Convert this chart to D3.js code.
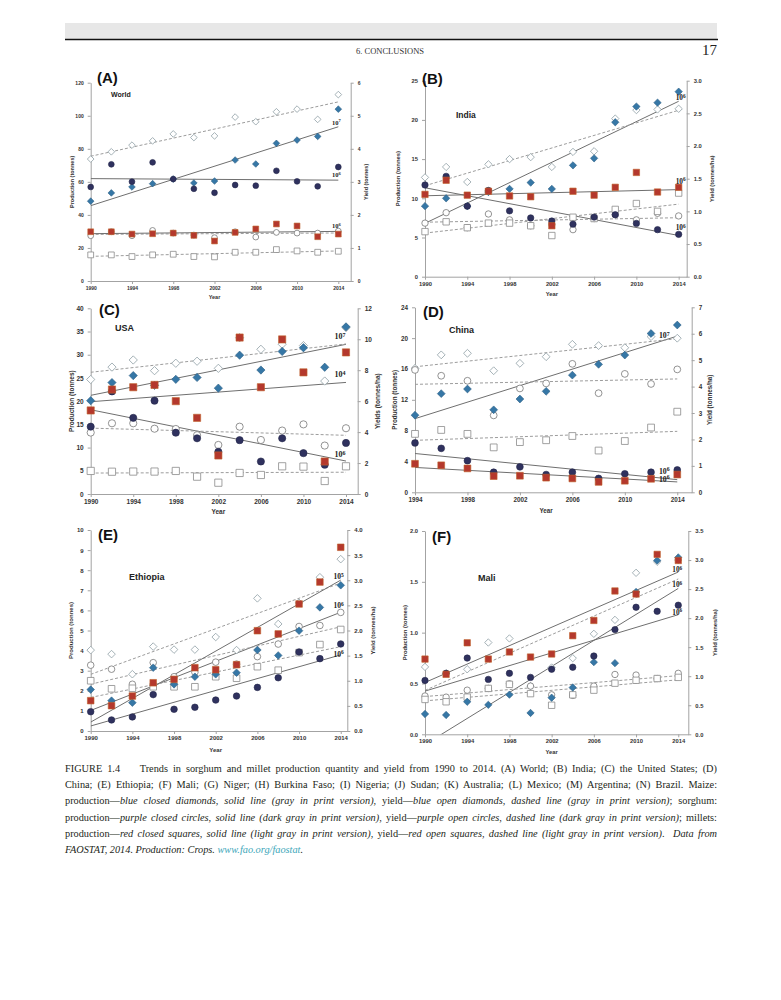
<!DOCTYPE html>
<html>
<head>
<meta charset="utf-8">
<script src="https://cdn.jsdelivr.net/npm/d3@7"></script>
<style>
  body { margin: 0; background: #fff; }
  #page { position: relative; width: 781px; height: 1000px; overflow: hidden; }
  #page svg { position: absolute; left: 0; top: 0; }
  .cap { position: absolute; left: 65px; top: 761px; width: 652px;
         font-family: "Liberation Serif", serif; font-size: 10.3px; color: #231f20; }
  .cap div { height: 16.2px; line-height: 16.2px; white-space: nowrap;
             text-align: justify; text-align-last: justify; }
  .cap div.last { text-align-last: left; }
  .cap .link { color: #3aa6b9; }
</style>
</head>
<body>
<div id="page"></div>
<script>
// years on the x axis
const years = [1990, 1992, 1994, 1996, 1998, 2000, 2002, 2004, 2006, 2008, 2010, 2012, 2014];
const chinaYears = [1994, 1996, 1998, 2000, 2002, 2004, 2006, 2008, 2010, 2012, 2014];
const xTicks = [1990, 1994, 1998, 2002, 2006, 2010, 2014];
const chinaXTicks = [1994, 1998, 2002, 2006, 2010, 2014];

// (A) World
const worldMaizeProd   = [48.3, 53.3, 56.9, 58.9, 61.7, 59.3, 60.5, 73.2, 70.8, 83.3, 85.3, 87.5, 104];
const worldMaizeYield  = [3.69, 3.91, 4.11, 4.24, 4.45, 4.34, 4.39, 4.96, 4.82, 5.12, 5.20, 4.89, 5.64];
const worldSorghumProd = [56.9, 70.6, 60.1, 71.8, 61.7, 55.8, 53.4, 58.1, 57.7, 66.7, 60.3, 57.3, 69.0];
const worldSorghumYield= [1.37, 1.49, 1.37, 1.53, 1.45, 1.39, 1.31, 1.49, 1.33, 1.47, 1.45, 1.45, 1.51];
const worldMilletProd  = [29.8, 29.8, 28.4, 28.6, 29.0, 27.6, 24.2, 29.4, 31.5, 34.5, 33.3, 26.8, 28.4];
const worldMilletYield = [0.79, 0.79, 0.74, 0.79, 0.81, 0.74, 0.73, 0.87, 0.87, 0.95, 0.91, 0.87, 0.90];
const worldExp = [7, 6, 6];
const worldProdTicks = [0, 20, 40, 60, 80, 100, 120];
const worldYieldTicks = [0, 1, 2, 3, 4, 5, 6];

// (B) India
const indiaMaizeProd   = [9.0, 10.0, 9.0, 10.8, 11.2, 12.0, 11.2, 14.2, 15.1, 19.7, 21.7, 22.2, 23.6];
const indiaMaizeYield  = [1.52, 1.68, 1.45, 1.72, 1.80, 1.83, 1.68, 1.91, 1.92, 2.42, 2.55, 2.56, 2.57];
const indiaSorghumProd = [11.7, 12.8, 9.0, 11.0, 8.4, 7.5, 7.1, 6.7, 7.6, 7.9, 6.8, 6.0, 5.4];
const indiaSorghumYield= [0.82, 0.98, 0.75, 0.96, 0.87, 0.78, 0.80, 0.72, 0.89, 0.95, 0.87, 0.97, 0.93];
const indiaMilletProd  = [10.5, 12.3, 10.4, 10.9, 10.3, 10.2, 6.5, 10.9, 10.4, 11.4, 13.3, 10.8, 11.4];
const indiaMilletYield = [0.69, 0.84, 0.75, 0.82, 0.82, 0.78, 0.63, 0.91, 0.89, 1.03, 1.12, 1.00, 1.28];
const indiaExp = [6, 6, 6];
const indiaProdTicks = [0, 5, 10, 15, 20, 25];
const indiaYieldTicks = [0, 0.5, 1, 1.5, 2, 2.5, 3];

// (C) USA
const usaMaizeProd   = [20.1, 24.0, 25.5, 23.4, 24.7, 25.1, 22.8, 29.9, 26.7, 30.7, 31.5, 27.3, 36.0];
const usaMaizeYield  = [7.4, 8.2, 8.66, 7.97, 8.45, 8.58, 8.12, 10.1, 9.35, 9.68, 9.59, 7.3, 10.75];
const usaSorghumProd = [14.5, 22.1, 16.4, 20.1, 13.2, 12.0, 9.1, 11.6, 7.0, 12.0, 8.8, 6.3, 11.0];
const usaSorghumYield= [3.97, 4.57, 4.57, 4.22, 4.2, 3.8, 3.17, 4.35, 3.49, 4.1, 4.5, 3.13, 4.25];
const usaMilletProd  = [18.0, 22.5, 23.0, 23.5, 20.0, 16.4, 8.3, 33.7, 23.0, 33.3, 26.2, 7.0, 30.5];
const usaMilletYield = [1.49, 1.44, 1.45, 1.45, 1.49, 1.12, 0.73, 1.36, 1.23, 1.79, 1.77, 0.84, 1.79];
const usaExp = [7, 6, 4];
const usaProdTicks = [0, 5, 10, 15, 20, 25, 30, 35, 40];
const usaYieldTicks = [0, 2, 4, 6, 8, 10, 12];

// (D) China
const chinaMaizeProd   = [10.0, 12.8, 13.4, 10.7, 12.1, 13.1, 15.2, 16.6, 17.8, 20.6, 21.7];
const chinaMaizeYield  = [4.69, 5.20, 5.26, 4.60, 4.88, 5.13, 5.60, 5.55, 5.47, 5.89, 5.83];
const chinaSorghumProd = [6.4, 5.7, 4.1, 2.6, 3.3, 2.3, 2.6, 1.8, 2.4, 2.6, 2.9];
const chinaSorghumYield= [4.63, 4.41, 4.22, 2.91, 3.93, 4.12, 4.86, 3.75, 4.48, 4.10, 4.65];
const chinaMilletProd  = [3.7, 3.5, 3.1, 2.1, 2.15, 1.9, 1.8, 1.35, 1.5, 1.75, 2.3];
const chinaMilletYield = [2.21, 2.36, 2.21, 1.70, 1.90, 1.97, 2.13, 1.58, 1.94, 2.45, 3.05];
const chinaExp = [7, 6, 6];
const chinaProdTicks = [0, 4, 8, 12, 16, 20, 24];
const chinaYieldTicks = [0, 1, 2, 3, 4, 5, 6, 7];

// (E) Ethiopia
const ethMaizeProd   = [2.06, 1.51, 1.41, 3.15, 2.32, 2.7, 2.82, 2.9, 4.03, 3.76, 4.99, 6.15, 7.25];
const ethMaizeYield  = [1.61, 1.53, 1.13, 1.68, 1.62, 1.62, 1.87, 1.61, 2.64, 2.13, 2.55, 3.06, 3.42];
const ethSorghumProd = [0.96, 0.55, 0.7, 1.81, 1.08, 1.18, 1.54, 1.74, 2.17, 2.65, 3.93, 3.6, 4.33];
const ethSorghumYield= [1.31, 1.23, 0.93, 1.36, 1.08, 1.17, 1.37, 1.33, 1.48, 1.73, 2.08, 2.1, 2.36];
const ethMilletProd  = [1.51, 1.26, 1.74, 2.4, 2.57, 3.15, 3.05, 3.3, 4.99, 4.83, 6.32, 7.41, 9.14];
const ethMilletYield = [1.0, 0.84, 0.85, 0.88, 0.88, 0.88, 1.08, 1.05, 1.28, 1.21, 1.56, 1.72, 2.02];
const ethExp = [6, 6, 5];
const ethProdTicks = [0, 1, 2, 3, 4, 5, 6, 7, 8, 9, 10];
const ethYieldTicks = [0, 0.5, 1, 1.5, 2, 2.5, 3, 3.5, 4];

// (F) Mali
const maliMaizeProd   = [0.2, 0.19, 0.32, 0.29, 0.39, 0.21, 0.36, 0.46, 0.71, 0.7, 1.4, 1.71, 1.74];
const maliMaizeYield  = [1.16, 1.05, 1.12, 1.58, 1.65, 0.83, 1.15, 1.31, 1.73, 1.97, 2.78, 2.97, 3.0];
const maliSorghumProd = [0.53, 0.6, 0.75, 0.54, 0.6, 0.56, 0.64, 0.66, 0.77, 1.03, 1.25, 1.21, 1.27];
const maliSorghumYield= [0.66, 0.64, 0.76, 0.79, 0.87, 0.83, 0.68, 0.67, 0.83, 1.03, 1.02, 0.96, 1.05];
const maliMilletProd  = [0.74, 0.59, 0.9, 0.74, 0.81, 0.76, 0.79, 0.97, 1.12, 1.41, 1.38, 1.77, 1.71];
const maliMilletYield = [0.6, 0.56, 0.64, 0.79, 0.86, 0.7, 0.5, 0.68, 0.76, 0.88, 0.93, 0.96, 0.98];
const maliExp = [6, 6, 6];
const maliProdTicks = [0, 0.5, 1, 1.5, 2];
const maliYieldTicks = [0, 0.5, 1, 1.5, 2, 2.5, 3, 3.5];

// crop styles: maize, sorghum, millet
const crops = [
  { shape: "diamond", fill: "#3677a6", stroke: "#2d5f85", open: "#8e9ea5" },
  { shape: "circle",  fill: "#2f315e", stroke: "#24264a", open: "#777777" },
  { shape: "square",  fill: "#b4382d", stroke: "#c0622a", open: "#8a8a8a" }
];

// labOff: offset of the "10^n" label from the end of each production trend line
const panels = [
  { letter: "(A)", name: "World", yrs: years, xT: xTicks, xDom: [1990, 2015.2],
    left: 90.7, right: 350.7, top: 82.7, bottom: 281,
    yL: [0, 120], yLT: worldProdTicks, yR: [0, 6], yRT: worldYieldTicks, fL: "d", fR: "d",
    series: [[worldMaizeProd, worldMaizeYield], [worldSorghumProd, worldSorghumYield], [worldMilletProd, worldMilletYield]],
    exps: worldExp, titleR: "Yield (tonnes)", fs: 5, ms: 2.9,
    labOff: [[-2, -2], [-2, -3], [-2, -3]],
    letterPos: [97, 83], namePos: [111, 96.5], nameSize: 7, tL: 72, tR: 366, yearY: 299 },
  { letter: "(B)", name: "India", yrs: years, xT: xTicks, xDom: [1990, 2014.76],
    left: 425, right: 686.7, top: 80.7, bottom: 276.7,
    yL: [0, 25], yLT: indiaProdTicks, yR: [0, 3], yRT: indiaYieldTicks, fL: "d", fR: ".1f",
    series: [[indiaMaizeProd, indiaMaizeYield], [indiaSorghumProd, indiaSorghumYield], [indiaMilletProd, indiaMilletYield]],
    exps: indiaExp, titleR: "Yield (tonnes/ha)", fs: 5.8, ms: 3.2,
    labOff: [[2, -1], [2, -5], [2, -6]],
    letterPos: [422, 84], namePos: [456, 118], nameSize: 8.5, tL: 398, tR: 712, yearY: 296 },
  { letter: "(C)", name: "USA", yrs: years, xT: xTicks, xDom: [1990, 2015.1],
    left: 90.7, right: 357.7, top: 308.3, bottom: 494,
    yL: [0, 40], yLT: usaProdTicks, yR: [0, 12], yRT: usaYieldTicks, fL: "d", fR: "d",
    series: [[usaMaizeProd, usaMaizeYield], [usaSorghumProd, usaSorghumYield], [usaMilletProd, usaMilletYield]],
    exps: usaExp, titleR: "Yields (tonnes/ha)", fs: 6.5, ms: 3.6,
    labOff: [[-6, -5], [-6, -4], [-6, -5]],
    letterPos: [99, 315], namePos: [115, 331], nameSize: 9, tL: 72, tR: 378, yearY: 514 },
  { letter: "(D)", name: "China", yrs: chinaYears, xT: chinaXTicks, xDom: [1994, 2015.1],
    left: 415, right: 691.7, top: 307.3, bottom: 492.3,
    yL: [0, 24], yLT: chinaProdTicks, yR: [0, 7], yRT: chinaYieldTicks, fL: "d", fR: "d",
    series: [[chinaMaizeProd, chinaMaizeYield], [chinaSorghumProd, chinaSorghumYield], [chinaMilletProd, chinaMilletYield]],
    exps: chinaExp, titleR: "Yield (tonnes/ha)", fs: 6.3, ms: 3.4,
    labOff: [[-13, 2], [-13, -6], [-13, 0]],
    letterPos: [423, 317], namePos: [449, 333], nameSize: 9, tL: 395, tR: 710, yearY: 513 },
  { letter: "(E)", name: "Ethiopia", yrs: years, xT: xTicks, xDom: [1990, 2014.63],
    left: 90.7, right: 347.3, top: 530, bottom: 731,
    yL: [0, 10], yLT: ethProdTicks, yR: [0, 4], yRT: ethYieldTicks, fL: "d", fR: ".1f",
    series: [[ethMaizeProd, ethMaizeYield], [ethSorghumProd, ethSorghumYield], [ethMilletProd, ethMilletYield]],
    exps: ethExp, titleR: "Yield (tonnes/ha)", fs: 6, ms: 3.3,
    labOff: [[-2, -4], [-2, 2], [-2, -1]],
    letterPos: [98, 540], namePos: [129, 580], nameSize: 9, tL: 71, tR: 373, yearY: 752 },
  { letter: "(F)", name: "Mali", yrs: years, xT: xTicks, xDom: [1990, 2014.95],
    left: 425, right: 688.3, top: 531, bottom: 734.3,
    yL: [0, 2], yLT: maliProdTicks, yR: [0, 3.5], yRT: maliYieldTicks, fL: ".1f", fR: ".1f",
    series: [[maliMaizeProd, maliMaizeYield], [maliSorghumProd, maliSorghumYield], [maliMilletProd, maliMilletYield]],
    exps: maliExp, titleR: "Yield (tonnes/ha)", fs: 5.8, ms: 3.2,
    labOff: [[-1, -1], [-1, 0], [-1, 0]],
    letterPos: [432, 542], namePos: [478, 581], nameSize: 9, tL: 405, tR: 715, yearY: 754 }
];

const svg = d3.select("#page").append("svg").attr("width", 781).attr("height", 1000);
const sans = "'Liberation Sans', Arial, sans-serif";

// page header
svg.append("rect").attr("x", 65).attr("y", 23).attr("width", 652).attr("height", 16).attr("fill", "#e7e7e7");
svg.append("line").attr("x1", 65).attr("x2", 718).attr("y1", 39.5).attr("y2", 39.5)
  .attr("stroke", "#111").attr("stroke-width", 1.6);
svg.append("text").attr("x", 390).attr("y", 53.5).attr("text-anchor", "middle")
  .style("font-family", "'Liberation Serif', serif").style("font-size", "8.5px").attr("fill", "#333")
  .text("6. CONCLUSIONS");
svg.append("text").attr("x", 717).attr("y", 55).attr("text-anchor", "end")
  .style("font-family", "'Liberation Serif', serif").style("font-size", "15px").attr("fill", "#222")
  .text("17");

function symbolPath(shape, s) {
  if (shape === "diamond") return `M0,${-s * 1.15}L${s * 1.15},0L0,${s * 1.15}L${-s * 1.15},0Z`;
  if (shape === "square") return `M${-s},${-s}H${s}V${s}H${-s}Z`;
  return d3.symbol(d3.symbolCircle, Math.PI * s * s)();
}

// least squares trend line
function fit(xs, ys) {
  const mx = d3.mean(xs), my = d3.mean(ys);
  const b = d3.sum(xs, (x, i) => (x - mx) * (ys[i] - my)) / d3.sum(xs, x => (x - mx) * (x - mx));
  return x => my + b * (x - mx);
}

panels.forEach((p, pi) => {
  const g = svg.append("g");
  const x = d3.scaleLinear().domain(p.xDom).range([p.left, p.right]);
  const yl = d3.scaleLinear().domain(p.yL).range([p.bottom, p.top]);
  const yr = d3.scaleLinear().domain(p.yR).range([p.bottom, p.top]);

  const styleAxis = a => {
    a.selectAll("path.domain").attr("stroke", "#a3a3a3").attr("stroke-width", 1);
    a.selectAll(".tick line").attr("stroke", "#a3a3a3");
    a.selectAll("text").style("font-family", sans).style("font-weight", "bold")
      .style("font-size", p.fs + "px").attr("fill", "#333");
  };
  g.append("g").attr("transform", `translate(0,${p.bottom})`)
    .call(d3.axisBottom(x).tickValues(p.xT).tickFormat(d3.format("d")).tickSize(3).tickSizeOuter(0).tickPadding(2))
    .call(styleAxis);
  g.append("g").attr("transform", `translate(${p.left},0)`)
    .call(d3.axisLeft(yl).tickValues(p.yLT).tickFormat(d3.format(p.fL)).tickSize(3).tickSizeOuter(0).tickPadding(4))
    .call(styleAxis);
  g.append("g").attr("transform", `translate(${p.right},0)`)
    .call(d3.axisRight(yr).tickValues(p.yRT).tickFormat(d3.format(p.fR)).tickSize(3).tickSizeOuter(0).tickPadding(4))
    .call(styleAxis);

  // titles
  const midY = (p.top + p.bottom) / 2;
  const tfs = Math.max(p.fs, 5.5);
  g.append("text").attr("transform", `translate(${p.tL},${midY}) rotate(-90)`).attr("text-anchor", "middle")
    .attr("dy", "0.35em").style("font-family", sans).style("font-weight", "bold").style("font-size", tfs + "px")
    .attr("fill", "#333").text("Production (tonnes)");
  g.append("text").attr("transform", `translate(${p.tR},${midY}) rotate(-90)`).attr("text-anchor", "middle")
    .attr("dy", "0.35em").style("font-family", sans).style("font-weight", "bold").style("font-size", tfs + "px")
    .attr("fill", "#333").text(p.titleR);
  g.append("text").attr("x", (x(p.yrs[0]) + x(p.yrs[p.yrs.length - 1])) / 2).attr("y", p.yearY)
    .attr("text-anchor", "middle").style("font-family", sans).style("font-weight", "bold")
    .style("font-size", tfs + "px").attr("fill", "#333").text("Year");
  g.append("text").attr("x", p.letterPos[0]).attr("y", p.letterPos[1])
    .style("font-family", sans).style("font-weight", "bold").style("font-size", "15px").attr("fill", "#111")
    .text(p.letter);
  g.append("text").attr("x", p.namePos[0]).attr("y", p.namePos[1])
    .style("font-family", sans).style("font-weight", "bold").style("font-size", p.nameSize + "px").attr("fill", "#222")
    .text(p.name);

  // clip for trend lines
  const clipId = "clip" + pi;
  svg.append("clipPath").attr("id", clipId).append("rect")
    .attr("x", p.left).attr("y", p.top).attr("width", p.right - p.left).attr("height", p.bottom - p.top);
  const lines = g.append("g").attr("clip-path", `url(#${clipId})`);
  const x0 = p.yrs[0], x1 = p.yrs[p.yrs.length - 1];
  const ends = [];

  p.series.forEach(([prod, yld], ci) => {
    const fp = fit(p.yrs, prod), fy = fit(p.yrs, yld);
    ends.push(fp(x1));
    lines.append("line").attr("x1", x(x0)).attr("x2", x(x1)).attr("y1", yl(fp(x0))).attr("y2", yl(fp(x1)))
      .attr("stroke", "#6f6f6f").attr("stroke-width", 1);
    lines.append("line").attr("x1", x(x0)).attr("x2", x(x1)).attr("y1", yr(fy(x0))).attr("y2", yr(fy(x1)))
      .attr("stroke", "#9c9c9c").attr("stroke-width", 1).attr("stroke-dasharray", "3,2");
  });

  // open markers (yield) first, then closed markers (production)
  p.series.forEach(([prod, yld], ci) => {
    g.append("g").selectAll("path").data(yld).join("path")
      .attr("transform", (d, i) => `translate(${x(p.yrs[i])},${yr(d)})`)
      .attr("d", symbolPath(crops[ci].shape, p.ms))
      .attr("fill", "#fff").attr("stroke", crops[ci].open).attr("stroke-width", 0.8);
  });
  p.series.forEach(([prod, yld], ci) => {
    g.append("g").selectAll("path").data(prod).join("path")
      .attr("transform", (d, i) => `translate(${x(p.yrs[i])},${yl(d)})`)
      .attr("d", symbolPath(crops[ci].shape, p.ms))
      .attr("fill", crops[ci].fill).attr("stroke", crops[ci].stroke).attr("stroke-width", 0.6);
  });

  // scale labels next to the production trend line ends
  ends.forEach((v, ci) => {
    const lab = g.append("text").attr("x", x(x1) + p.labOff[ci][0]).attr("y", yl(v) + p.labOff[ci][1])
      .attr("text-anchor", "middle")
      .style("font-family", "'Liberation Serif', serif").style("font-weight", "bold")
      .style("font-size", (p.fs + 1.5) + "px").attr("fill", "#222");
    lab.append("tspan").text("10");
    lab.append("tspan").attr("dy", -2.5).style("font-size", (p.fs - 0.5) + "px").text(p.exps[ci]);
  });
});

// figure caption
const captionLines = [
  "FIGURE 1.4&nbsp;&nbsp;&nbsp; Trends in sorghum and millet production quantity and yield from 1990 to 2014. (A) World; (B) India; (C) the United States; (D)",
  "China; (E) Ethiopia; (F) Mali; (G) Niger; (H) Burkina Faso; (I) Nigeria; (J) Sudan; (K) Australia; (L) Mexico; (M) Argentina; (N) Brazil. Maize:",
  "production—<i>blue closed diamonds, solid line (gray in print version)</i>, yield—<i>blue open diamonds, dashed line (gray in print version)</i>; sorghum:",
  "production—<i>purple closed circles, solid line (dark gray in print version)</i>, yield—<i>purple open circles, dashed line (dark gray in print version)</i>; millets:",
  "production—<i>red closed squares, solid line (light gray in print version)</i>, yield—<i>red open squares, dashed line (light gray in print version)</i>.&nbsp; <i>Data from</i>",
  "<i>FAOSTAT, 2014. Production: Crops. <span class=\"link\">www.fao.org/faostat</span>.</i>"
];
d3.select("#page").append("div").attr("class", "cap")
  .selectAll("div").data(captionLines).join("div")
  .classed("last", (d, i) => i === captionLines.length - 1)
  .html(d => d);
</script>
</body>
</html>
